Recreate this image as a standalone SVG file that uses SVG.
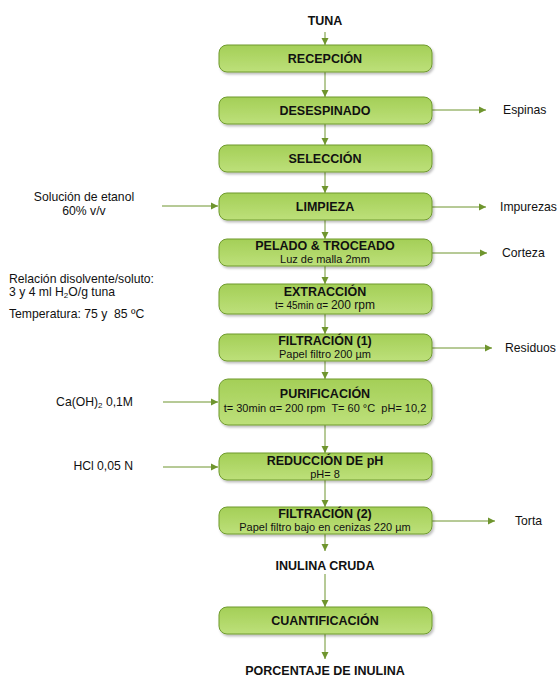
<svg xmlns="http://www.w3.org/2000/svg" width="559" height="679" viewBox="0 0 559 679">
<defs>
<linearGradient id="g" x1="0" y1="0" x2="0" y2="1">
<stop offset="0" stop-color="#a4cf57"/>
<stop offset="1" stop-color="#bde07a"/>
</linearGradient>
<filter id="sh" x="-5%" y="-20%" width="110%" height="150%">
<feDropShadow dx="1.5" dy="2" stdDeviation="1.2" flood-color="#000" flood-opacity="0.25"/>
</filter>
<marker id="ah" markerWidth="8" markerHeight="8" refX="7" refY="4" orient="auto" markerUnits="userSpaceOnUse">
<path d="M0,0.5 L7,4 L0,7.5 Z" fill="#6f952e"/>
</marker>
</defs>
<style>
.box{fill:url(#g);stroke:#6f9a2f;stroke-width:1;filter:url(#sh)}
.t{font-family:"Liberation Sans",Arial,sans-serif;font-size:12.5px;font-weight:bold;fill:#111;text-anchor:middle}
.s{font-family:"Liberation Sans",Arial,sans-serif;font-size:11px;fill:#111;text-anchor:middle}
.l{font-family:"Liberation Sans",Arial,sans-serif;font-size:12.2px;fill:#111}
.c{stroke:#6f952e;stroke-width:1;fill:none;marker-end:url(#ah)}
</style>
<rect width="559" height="679" fill="#fff"/>
<g id="connectors">
<line class="c" x1="325" y1="32" x2="325" y2="45"/>
<line class="c" x1="325" y1="72" x2="325" y2="97"/>
<line class="c" x1="325" y1="124" x2="325" y2="145"/>
<line class="c" x1="325" y1="172" x2="325" y2="193"/>
<line class="c" x1="325" y1="220" x2="325" y2="239"/>
<line class="c" x1="325" y1="266" x2="325" y2="284"/>
<line class="c" x1="325" y1="314" x2="325" y2="334"/>
<line class="c" x1="325" y1="361" x2="325" y2="379"/>
<line class="c" x1="325" y1="425" x2="325" y2="453"/>
<line class="c" x1="325" y1="480" x2="325" y2="507"/>
<line class="c" x1="325" y1="534" x2="325" y2="551"/>
<line class="c" x1="325" y1="574" x2="325" y2="607"/>
<line class="c" x1="325" y1="634" x2="325" y2="659"/>
<line class="c" x1="432" y1="110" x2="486" y2="110"/>
<line class="c" x1="432" y1="207" x2="486" y2="207"/>
<line class="c" x1="432" y1="253" x2="487" y2="253"/>
<line class="c" x1="432" y1="348" x2="492" y2="348"/>
<line class="c" x1="432" y1="521" x2="495" y2="521"/>
<line class="c" x1="162" y1="206" x2="218" y2="206"/>
<line class="c" x1="163" y1="402" x2="218" y2="402"/>
<line class="c" x1="163" y1="467" x2="218" y2="467"/>
</g>
<g id="tuna"><text class="t" x="325" y="25">TUNA</text></g>
<g id="recepcion"><rect class="box" x="219" y="45" width="213" height="27" rx="8"/><text class="t" x="325" y="63">RECEPCIÓN</text></g>
<g id="desespinado"><rect class="box" x="219" y="97" width="213" height="27" rx="8"/><text class="t" x="325" y="115">DESESPINADO</text></g>
<g id="seleccion"><rect class="box" x="219" y="145" width="213" height="27" rx="8"/><text class="t" x="325" y="163">SELECCIÓN</text></g>
<g id="limpieza"><rect class="box" x="219" y="193" width="213" height="27" rx="8"/><text class="t" x="325" y="211">LIMPIEZA</text></g>
<g id="pelado"><rect class="box" x="219" y="239" width="213" height="27" rx="8"/><text class="t" x="325" y="250">PELADO &amp; TROCEADO</text><text class="s" x="325" y="263" font-size="12">Luz de malla 2mm</text></g>
<g id="extraccion"><rect class="box" x="219" y="284" width="213" height="30" rx="8"/><text class="t" x="325" y="296">EXTRACCIÓN</text><text class="s" x="325" y="309"><tspan font-size="10">t= 45min α= </tspan><tspan font-size="12">200 rpm</tspan></text></g>
<g id="filtracion1"><rect class="box" x="219" y="334" width="213" height="27" rx="8"/><text class="t" x="325" y="345">FILTRACIÓN (1)</text><text class="s" x="325" y="358" font-size="9.8">Papel filtro 200 µm</text></g>
<g id="purificacion"><rect class="box" x="219" y="379" width="213" height="46" rx="9"/><text class="t" x="325" y="398">PURIFICACIÓN</text><text class="s" x="325" y="412" font-size="10.6" xml:space="preserve">t= 30min α= 200 rpm  T= 60 °C  pH= 10,2</text></g>
<g id="reduccion"><rect class="box" x="219" y="453" width="213" height="27" rx="8"/><text class="t" x="325" y="465">REDUCCIÓN DE pH</text><text class="s" x="325" y="478" font-size="9">pH= 8</text></g>
<g id="filtracion2"><rect class="box" x="219" y="507" width="213" height="27" rx="8"/><text class="t" x="325" y="518">FILTRACIÓN (2)</text><text class="s" x="325" y="531" font-size="10.4">Papel filtro bajo en cenizas 220 µm</text></g>
<g id="inulina"><text class="t" x="325" y="570">INULINA CRUDA</text></g>
<g id="cuantificacion"><rect class="box" x="219" y="607" width="213" height="27" rx="8"/><text class="t" x="325" y="625">CUANTIFICACIÓN</text></g>
<g id="porcentaje"><text class="t" x="325" y="675">PORCENTAJE DE INULINA</text></g>
<g id="outputs">
<text class="l" x="503" y="114" font-size="12.8">Espinas</text>
<text class="l" x="500" y="211">Impurezas</text>
<text class="l" x="502" y="257" font-size="12.5">Corteza</text>
<text class="l" x="505" y="352" font-size="12.5">Residuos</text>
<text class="l" x="515" y="525" font-size="12.5">Torta</text>
</g>
<g id="inputs">
<text class="l" x="84" y="201" text-anchor="middle">Solución de etanol</text>
<text class="l" x="84" y="215" text-anchor="middle">60% v/v</text>
<text class="l" x="9" y="283">Relación disolvente/soluto:</text>
<text class="l" x="9" y="296">3 y 4 ml H<tspan font-size="8" dy="2">2</tspan><tspan dy="-2">O/g tuna</tspan></text>
<text class="l" x="9" y="318" xml:space="preserve">Temperatura: 75 y  85 ºC</text>
<text class="l" x="133" y="406" text-anchor="end">Ca(OH)<tspan font-size="8" dy="2">2</tspan><tspan dy="-2"> 0,1M</tspan></text>
<text class="l" x="133" y="470" text-anchor="end">HCl 0,05 N</text>
</g>
</svg>
